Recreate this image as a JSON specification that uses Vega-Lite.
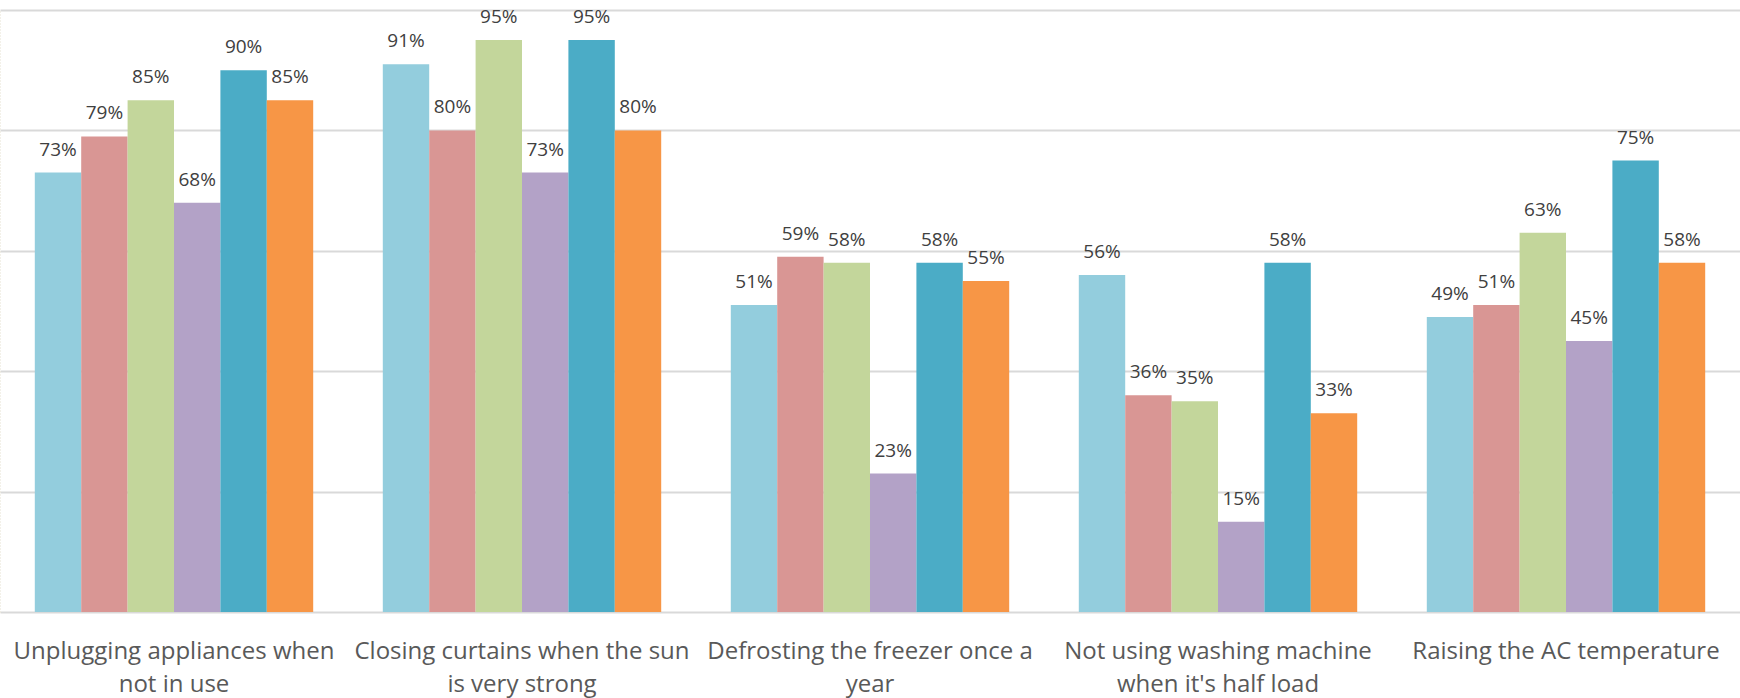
{
  "$schema": "https://vega.github.io/schema/vega-lite/v6.json",
  "width": 1740,
  "height": 602,
  "autosize": {"type": "none"},
  "padding": {"left": 0, "top": 10, "right": 0, "bottom": 86},
  "background": "white",
  "config": {
    "view": {"stroke": null},
    "font": "Open Sans"
  },
  "data": {
    "values": [
      {"cat": "Unplugging appliances when|not in use", "series": "S1", "value": 0.73},
      {"cat": "Unplugging appliances when|not in use", "series": "S2", "value": 0.79},
      {"cat": "Unplugging appliances when|not in use", "series": "S3", "value": 0.85},
      {"cat": "Unplugging appliances when|not in use", "series": "S4", "value": 0.68},
      {"cat": "Unplugging appliances when|not in use", "series": "S5", "value": 0.90},
      {"cat": "Unplugging appliances when|not in use", "series": "S6", "value": 0.85},
      {"cat": "Closing curtains when the sun|is very strong", "series": "S1", "value": 0.91},
      {"cat": "Closing curtains when the sun|is very strong", "series": "S2", "value": 0.80},
      {"cat": "Closing curtains when the sun|is very strong", "series": "S3", "value": 0.95},
      {"cat": "Closing curtains when the sun|is very strong", "series": "S4", "value": 0.73},
      {"cat": "Closing curtains when the sun|is very strong", "series": "S5", "value": 0.95},
      {"cat": "Closing curtains when the sun|is very strong", "series": "S6", "value": 0.80},
      {"cat": "Defrosting the freezer once a|year", "series": "S1", "value": 0.51},
      {"cat": "Defrosting the freezer once a|year", "series": "S2", "value": 0.59},
      {"cat": "Defrosting the freezer once a|year", "series": "S3", "value": 0.58},
      {"cat": "Defrosting the freezer once a|year", "series": "S4", "value": 0.23},
      {"cat": "Defrosting the freezer once a|year", "series": "S5", "value": 0.58},
      {"cat": "Defrosting the freezer once a|year", "series": "S6", "value": 0.55},
      {"cat": "Not using washing machine|when it's half load", "series": "S1", "value": 0.56},
      {"cat": "Not using washing machine|when it's half load", "series": "S2", "value": 0.36},
      {"cat": "Not using washing machine|when it's half load", "series": "S3", "value": 0.35},
      {"cat": "Not using washing machine|when it's half load", "series": "S4", "value": 0.15},
      {"cat": "Not using washing machine|when it's half load", "series": "S5", "value": 0.58},
      {"cat": "Not using washing machine|when it's half load", "series": "S6", "value": 0.33},
      {"cat": "Raising the AC temperature", "series": "S1", "value": 0.49},
      {"cat": "Raising the AC temperature", "series": "S2", "value": 0.51},
      {"cat": "Raising the AC temperature", "series": "S3", "value": 0.63},
      {"cat": "Raising the AC temperature", "series": "S4", "value": 0.45},
      {"cat": "Raising the AC temperature", "series": "S5", "value": 0.75},
      {"cat": "Raising the AC temperature", "series": "S6", "value": 0.58}
    ]
  },
  "encoding": {
    "x": {
      "field": "cat",
      "type": "nominal",
      "sort": null,
      "scale": {"paddingInner": 0.2, "paddingOuter": 0.1},
      "axis": {
        "title": null,
        "labelAngle": 0,
        "labelExpr": "split(datum.label, '|')",
        "labelFontSize": 24,
        "labelColor": "#595959",
        "labelLineHeight": 33,
        "labelPadding": 27,
        "labelBaseline": "top",
        "labelLimit": 0,
        "ticks": false,
        "domain": false
      }
    },
    "xOffset": {"field": "series", "type": "nominal", "scale": {"paddingInner": 0, "paddingOuter": 0}},
    "y": {
      "field": "value",
      "type": "quantitative",
      "scale": {"domain": [0, 1], "nice": false},
      "axis": {
        "title": null,
        "labels": false,
        "ticks": false,
        "values": [0, 0.2, 0.4, 0.6, 0.8, 1],
        "grid": true,
        "gridColor": "#d9d9d9",
        "gridWidth": 2,
        "domain": true,
        "domainColor": "#e6e2d3",
        "domainDash": [1, 2],
        "domainWidth": 1
      }
    }
  },
  "layer": [
    {
      "mark": {"type": "bar"},
      "encoding": {
        "color": {
          "field": "series",
          "type": "nominal",
          "legend": null,
          "scale": {
            "domain": ["S1", "S2", "S3", "S4", "S5", "S6"],
            "range": ["#93CDDD", "#D99694", "#C3D69B", "#B3A2C7", "#4BACC6", "#F79646"]
          }
        }
      }
    },
    {
      "mark": {"type": "text", "baseline": "alphabetic", "dy": -17, "fontSize": 19, "color": "#404040"},
      "encoding": {
        "text": {"field": "value", "type": "quantitative", "format": ".0%"}
      }
    }
  ]
}
